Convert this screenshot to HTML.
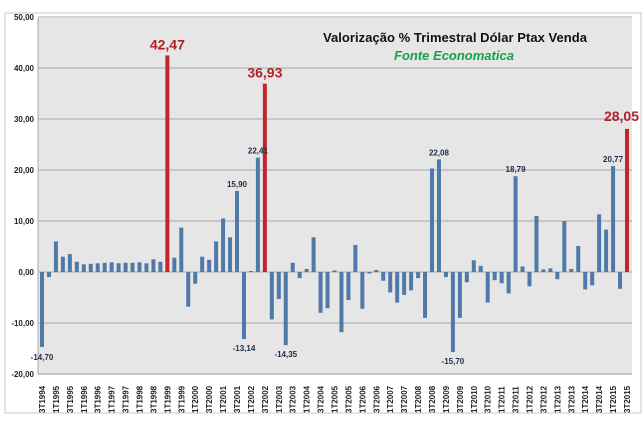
<!DOCTYPE html>
<html><head><meta charset="utf-8"><style>
html,body{margin:0;padding:0;background:#fff;width:644px;height:434px;overflow:hidden}
svg{display:block;font-family:"Liberation Sans",sans-serif}
</style></head><body>
<svg id="c" width="644" height="434" xmlns="http://www.w3.org/2000/svg">
<rect x="5" y="13" width="636" height="400" fill="#fff" stroke="#c8c8c8"/>
<rect x="38" y="18" width="594" height="357" fill="#e6e6e6"/>
<g id="grid"></g>
<g id="bars"></g>
<g id="labels"></g>
<text x="455" y="42" text-anchor="middle" font-size="13" font-weight="bold" fill="#111" textLength="264">Valorização % Trimestral Dólar Ptax Venda</text>
<text x="454" y="60" text-anchor="middle" font-size="13" font-weight="bold" font-style="italic" fill="#1aa04a">Fonte Economatica</text>
</svg>
<script>
var v=[-14.7,-1,6,3,3.5,2,1.5,1.6,1.7,1.8,1.9,1.7,1.8,1.8,1.9,1.7,2.5,2.0,42.47,2.8,8.7,-6.8,-2.3,3,2.4,6,10.5,6.8,15.9,-13.14,0.2,22.41,36.93,-9.3,-5.3,-14.35,1.8,-1.2,0.6,6.8,-8,-7.1,0.3,-11.8,-5.5,5.3,-7.2,-0.3,0.4,-1.7,-4,-6,-4.5,-3.6,-1.2,-9,20.3,22.08,-1,-15.7,-9,-2,2.3,1.2,-6,-1.6,-2.2,-4.2,18.79,1.1,-2.8,11,0.5,0.7,-1.4,10,0.6,5.1,-3.4,-2.6,11.3,8.3,20.77,-3.3,28.05];
var NS="http://www.w3.org/2000/svg";
function el(t,a,p,txt){var e=document.createElementNS(NS,t);for(var k in a)e.setAttribute(k,a[k]);if(txt!=null)e.textContent=txt;document.getElementById(p).appendChild(e);return e;}
function Y(val){return 272-val*5.1;}
for(var g=-20;g<=50;g+=10){var y=Y(g);
 el('line',{x1:38,x2:632,y1:y,y2:y,stroke:'#a8a8a8','stroke-width':1},'grid');
 el('text',{x:34,y:y+3,'text-anchor':'end','font-size':8,'font-weight':'bold',fill:'#222'},'grid',(g.toFixed(2)).replace('.',','));}
el('line',{x1:38,x2:38,y1:18,y2:375,stroke:'#a8a8a8'},'grid');
var step=(627-42)/(v.length-1);
var red={18:1,32:1,84:1};
for(var i=0;i<v.length;i++){
 var x=42+step*i,val=v[i],y0=Y(0),y1=Y(val);
 el('rect',{x:x-2,y:Math.min(y0,y1),width:4,height:Math.max(1,Math.abs(y1-y0)),fill:red[i]?'#c0262c':'#4f79a8'},'bars');
 if(i%2==0){var q=['3T','4T','1T','2T'][i%4];var yr=1994+Math.floor((i+2)/4);
  el('text',{transform:'translate('+(x+3)+',413) rotate(-90)','font-size':8,'font-weight':'bold',fill:'#222'},'labels',q+yr);}
}
function lab(i,txt,dy,big,xo,anc){var x=42+step*i+(xo||0);el('text',{x:x,y:Y(v[i])+dy,'text-anchor':anc||'middle','font-size':big?14:8,'font-weight':'bold',fill:big?'#b3202a':'#1f2d4a'},'labels',txt);}
lab(18,'42,47',-6,1);lab(32,'36,93',-6,1);lab(84,'28,05',-8,1,12,'end');
lab(0,'-14,70',13);lab(29,'-13,14',12);lab(35,'-14,35',12);lab(59,'-15,70',12);
lab(28,'15,90',-4);lab(31,'22,41',-4);lab(57,'22,08',-4);lab(68,'18,79',-4);lab(82,'20,77',-4);
</script>
</body></html>
